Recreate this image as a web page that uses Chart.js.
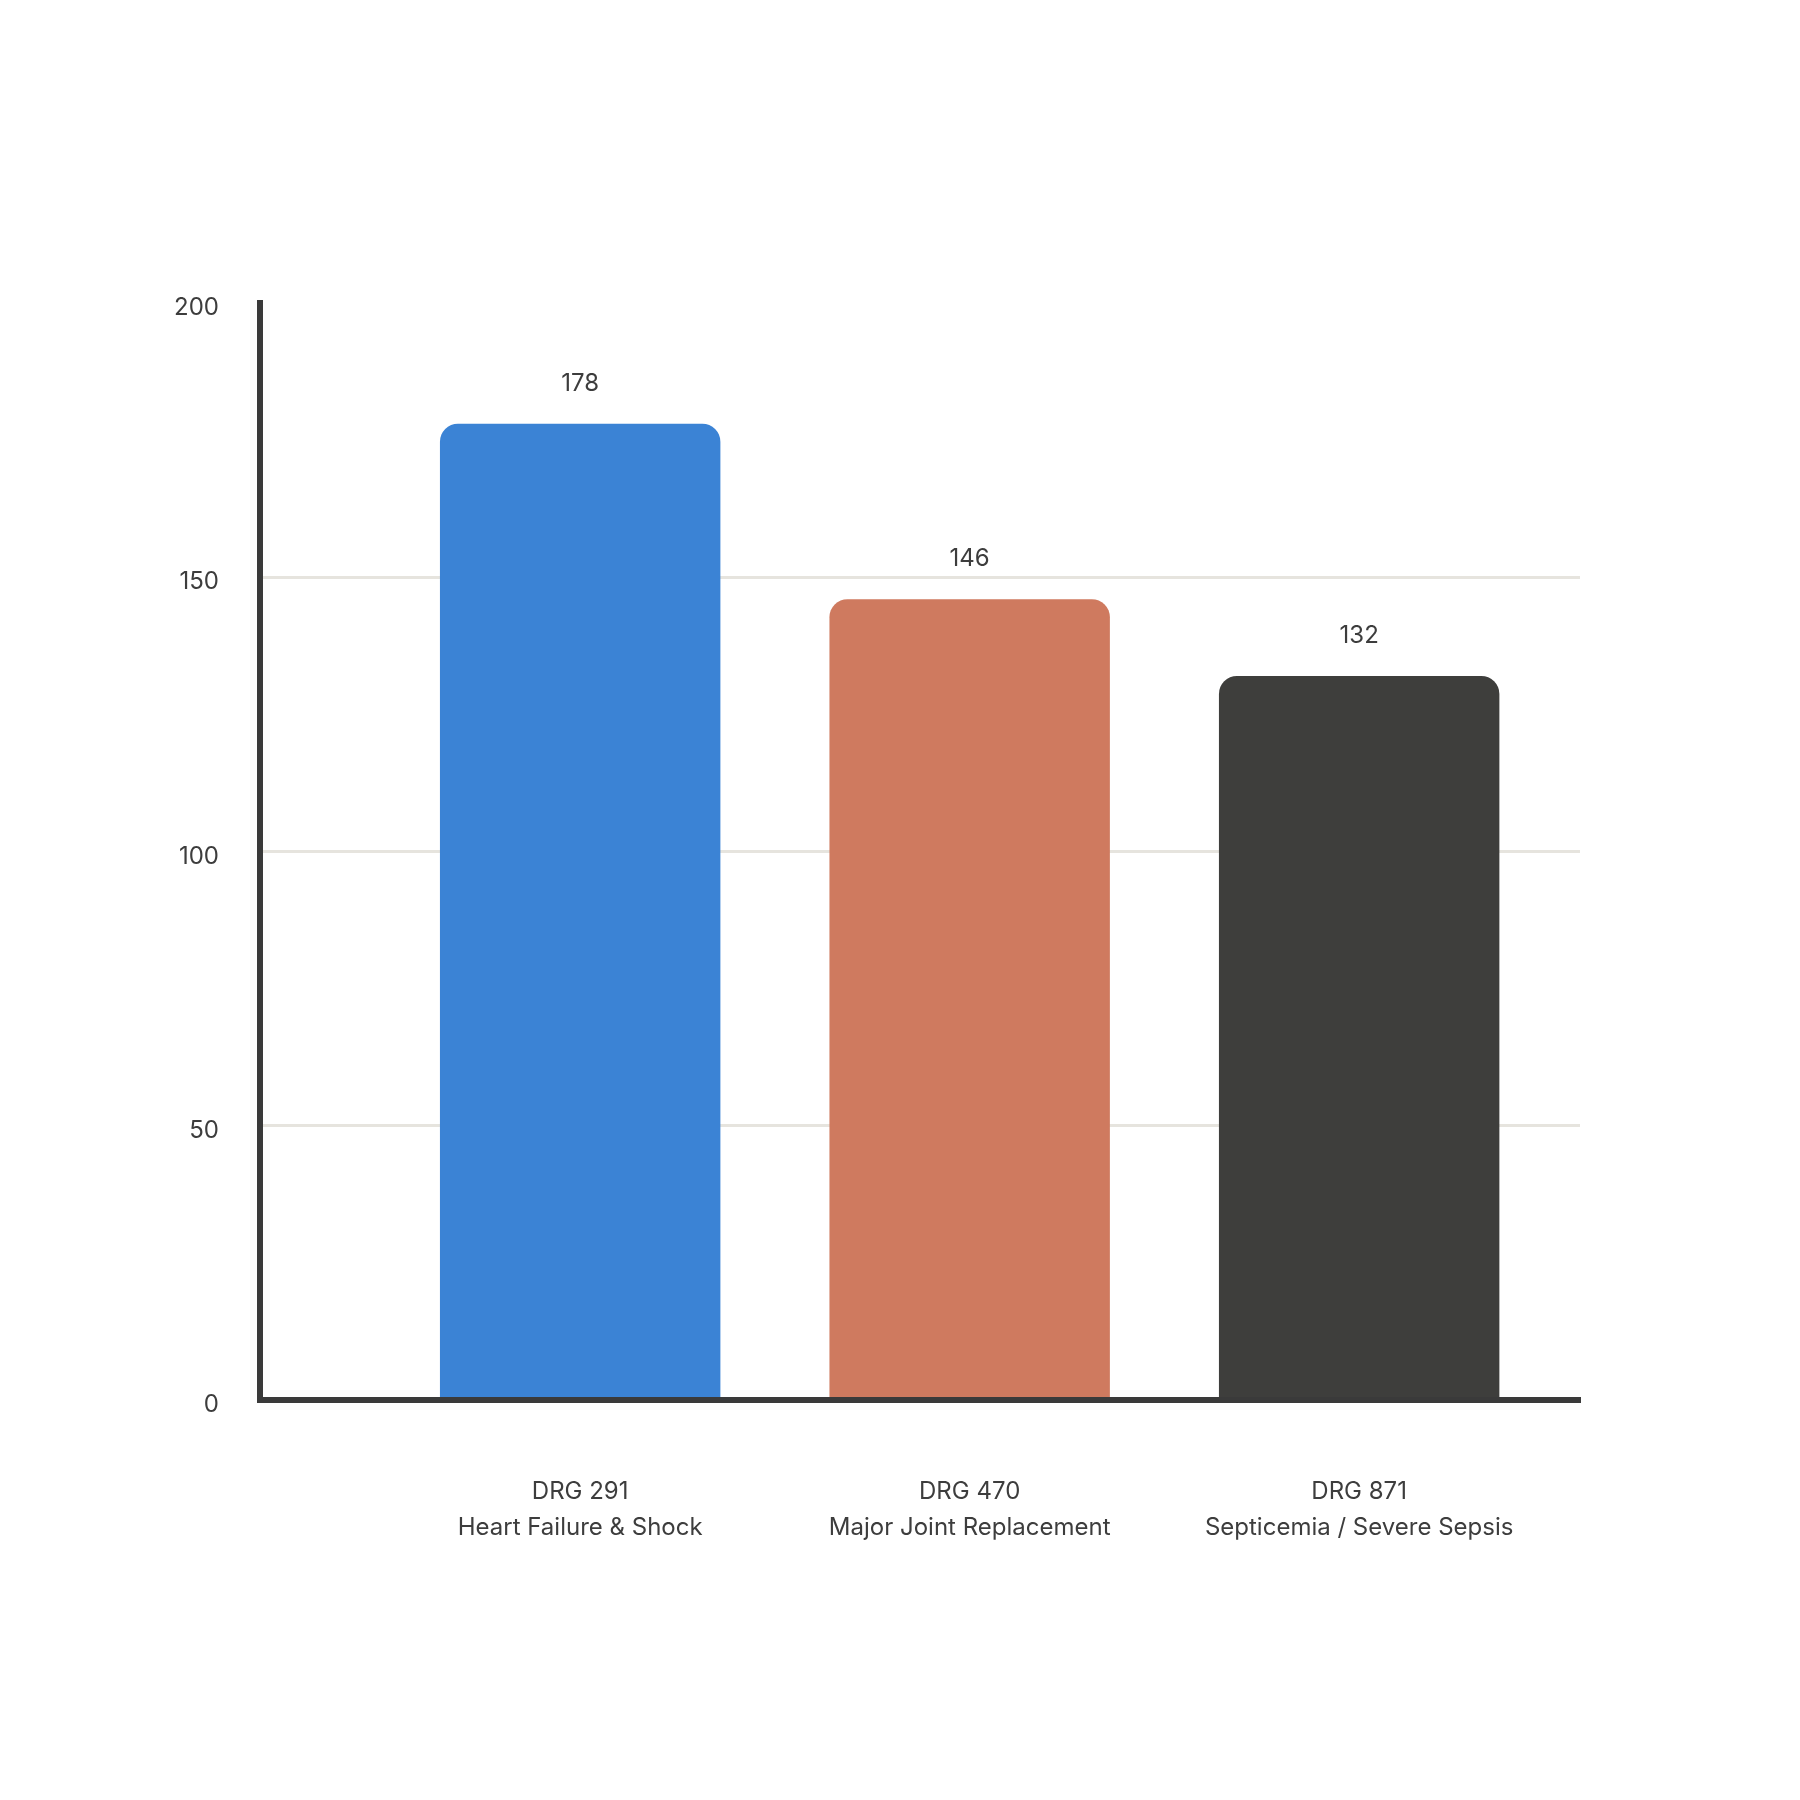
<!DOCTYPE html>
<html>
<head>
<meta charset="utf-8">
<script src="https://cdn.jsdelivr.net/npm/chart.js@4.4.1/dist/chart.umd.min.js"></script>
<style>
  html, body { margin: 0; padding: 0; background: #ffffff; }
  #chart { display: block; }
</style>
</head>
<body>
<canvas id="chart" width="1800" height="1800"></canvas>
<script>
const codes = ['DRG 291', 'DRG 470', 'DRG 871'];
const names = ['Heart Failure & Shock', 'Major Joint Replacement', 'Septicemia / Severe Sepsis'];
const cases = [178, 146, 132];
const barColors = ['#3b83d5', '#cf7a5f', '#3e3e3c'];
const yTicks = [0, 50, 100, 150, 200];

const textColor = '#3d3d3d';
const axisColor = '#3a3a3a';

// value printed above each bar
const valueLabels = {
    id: 'valueLabels',
    afterDatasetsDraw(chart) {
        const {ctx} = chart;
        const y = chart.scales.y;
        ctx.save();
        ctx.font = '24px Inter';
        ctx.fillStyle = textColor;
        ctx.textAlign = 'center';
        ctx.textBaseline = 'middle';
        chart.getDatasetMeta(0).data.forEach((bar, i) => {
            ctx.fillText(String(cases[i]), bar.x, y.getPixelForValue(cases[i]) - 40);
        });
        ctx.restore();
    }
};

const draw = () => new Chart(document.getElementById('chart'), {
    type: 'bar',
    data: {
        datasets: [{
            data: cases.map((v, i) => ({x: i + 1, y: v})),
            backgroundColor: barColors,
            borderRadius: 18,
            borderSkipped: 'start',
            categoryPercentage: 1,
            barPercentage: 0.72
        }]
    },
    options: {
        responsive: false,
        devicePixelRatio: 1,
        animation: false,
        layout: {
            padding: {top: 303, right: 220, bottom: 0, left: 0}
        },
        plugins: {
            legend: {display: false},
            tooltip: {enabled: false}
        },
        scales: {
            x: {
                type: 'linear',
                offset: false,
                min: 0.178,
                max: 3.567,
                afterBuildTicks: s => { s.ticks = codes.map((c, i) => ({value: i + 1})); },
                afterFit: s => { s.height = 400; },
                grid: {display: false, drawTicks: false, offset: false},
                border: {display: true, color: axisColor, width: 6, z: 1},
                ticks: {
                    autoSkip: false,
                    maxRotation: 0,
                    padding: 74,
                    color: textColor,
                    font: {family: 'Inter', size: 24, lineHeight: '36px'},
                    callback: v => [codes[v - 1], names[v - 1]]
                }
            },
            y: {
                min: yTicks[0],
                max: yTicks[yTicks.length - 1],
                afterFit: s => { s.width = 260; },
                afterBuildTicks: s => { s.ticks = yTicks.map(v => ({value: v})); },
                grid: {
                    drawTicks: false,
                    lineWidth: 3,
                    color: c => (c.tick.value === 0 || c.tick.value === 200) ? 'rgba(0,0,0,0)' : '#e6e4de'
                },
                border: {display: true, color: axisColor, width: 6},
                ticks: {
                    padding: 41,
                    color: textColor,
                    font: {family: 'Inter', size: 24, lineHeight: '10px'},
                    // empty first line nudges the number a few px below the gridline, as in the original
                    callback: v => ['', String(v)]
                }
            }
        }
    },
    plugins: [valueLabels]
});

document.fonts.load('24px Inter').then(draw, draw);
</script>
</body>
</html>
